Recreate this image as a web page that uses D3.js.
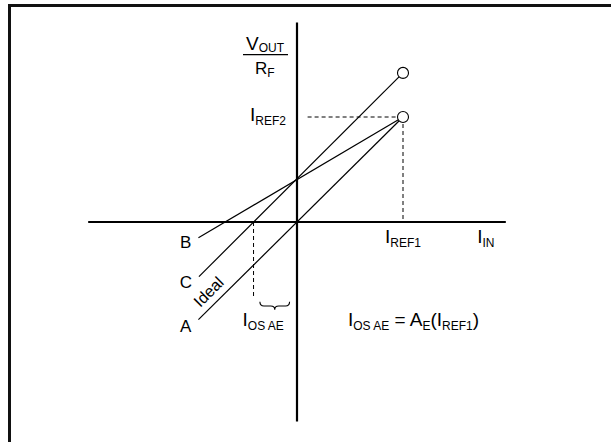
<!DOCTYPE html>
<html>
<head>
<meta charset="utf-8">
<script src="https://cdn.jsdelivr.net/npm/d3@7"></script>
<style>
  body { margin: 0; background: #fff; }
  text { font-family: "Liberation Sans", Arial, sans-serif; fill: #000; }
</style>
</head>
<body>
<script>
// transfer lines, in units of IREF1 (x) and IREF2 (y)
var lineNames = ["A", "B", "C"];
var lineStartX = [-0.93, -0.93, -0.925];
var lineStartY = [-0.93, -0.15, -0.52];
var lineEndX = [1, 1, 1];
var lineEndY = [1, 1, 1.42];

var refX = 1;          // IREF1
var refY = 1;          // IREF2
var offsetX = -0.41;   // IOS AE (x-intercept of C)
var axisX = [-1.97, 1.97];
var axisY = [-1.9, 1.9];

window.onload = function() {

  var width = 611,
      height = 442;

  var x = d3.scaleLinear().domain([0, 1]).range([297, 403]);
  var y = d3.scaleLinear().domain([0, 1]).range([222, 117]);

  var svg = d3.select("body").append("svg")
      .attr("width", width)
      .attr("height", height);

  // frame (left + top edge only)
  svg.append("path")
      .attr("d", "M9.5," + height + "V5.5H" + width)
      .attr("fill", "none")
      .attr("stroke", "#111")
      .attr("stroke-width", 3);

  // axes
  svg.append("line")
      .attr("x1", x(axisX[0])).attr("x2", x(axisX[1]))
      .attr("y1", y(0)).attr("y2", y(0))
      .attr("stroke", "#000").attr("stroke-width", 2.2);
  svg.append("line")
      .attr("x1", x(0)).attr("x2", x(0))
      .attr("y1", y(axisY[1])).attr("y2", y(axisY[0]))
      .attr("stroke", "#000").attr("stroke-width", 2.2);

  // dashed guides
  var dashes = [
    [0.1, refY, refX, refY],
    [refX, refY, refX, 0],
    [offsetX, 0, offsetX, -0.715]
  ];
  svg.selectAll(".guide")
      .data(dashes)
    .enter().append("line")
      .attr("class", "guide")
      .attr("x1", function(d) { return x(d[0]); })
      .attr("y1", function(d) { return y(d[1]); })
      .attr("x2", function(d) { return x(d[2]); })
      .attr("y2", function(d) { return y(d[3]); })
      .attr("stroke", "#000")
      .attr("stroke-width", 1)
      .attr("stroke-dasharray", "4,3");

  // the three lines
  svg.selectAll(".curve")
      .data(lineNames)
    .enter().append("line")
      .attr("class", "curve")
      .attr("x1", function(d, i) { return x(lineStartX[i]); })
      .attr("y1", function(d, i) { return y(lineStartY[i]); })
      .attr("x2", function(d, i) { return x(lineEndX[i]); })
      .attr("y2", function(d, i) { return y(lineEndY[i]); })
      .attr("stroke", "#000")
      .attr("stroke-width", 1.2);

  // end circles
  var ends = [[refX, refY], [lineEndX[2], lineEndY[2]]];
  svg.selectAll(".end")
      .data(ends)
    .enter().append("circle")
      .attr("class", "end")
      .attr("cx", function(d) { return x(d[0]); })
      .attr("cy", function(d) { return y(d[1]); })
      .attr("r", 5.5)
      .attr("fill", "#fff")
      .attr("stroke", "#000")
      .attr("stroke-width", 1.1);

  // line labels A B C
  var labelDy = [12, 10, 11];
  svg.selectAll(".lbl")
      .data(lineNames)
    .enter().append("text")
      .attr("class", "lbl")
      .attr("x", function(d, i) { return x(lineStartX[i]) - 7; })
      .attr("y", function(d, i) { return y(lineStartY[i]) + labelDy[i]; })
      .attr("text-anchor", "end")
      .attr("font-size", "17px")
      .text(function(d) { return d; });

  // "Ideal" along line A
  var ix = x(-0.74) - 6, iy = y(-0.74) - 4;
  svg.append("text")
      .attr("transform", "translate(" + ix + "," + iy + ") rotate(-45)")
      .attr("text-anchor", "middle")
      .attr("font-size", "16px")
      .text("Ideal");

  // brace under IOS AE
  var bx0 = x(-0.35), bx1 = x(-0.07), bm = (bx0 + bx1) / 2,
      bt = y(-0.76), bb = y(-0.8), tip = y(-0.835);
  svg.append("path")
      .attr("d", "M" + bx0 + "," + bt +
                 "Q" + bx0 + "," + bb + " " + (bx0 + 4) + "," + bb +
                 "H" + (bm - 4) +
                 "Q" + bm + "," + bb + " " + bm + "," + tip +
                 "Q" + bm + "," + bb + " " + (bm + 4) + "," + bb +
                 "H" + (bx1 - 4) +
                 "Q" + bx1 + "," + bb + " " + bx1 + "," + bt)
      .attr("fill", "none")
      .attr("stroke", "#000")
      .attr("stroke-width", 1.1);

  // subscripted labels
  function subLabel(px, py, parts, size, subDy) {
    var t = svg.append("text")
        .attr("x", px)
        .attr("y", py)
        .attr("font-size", size || "19px");
    parts.forEach(function(p) {
      var s = t.append("tspan").text(p[0]);
      if (p[1]) s.attr("font-size", "12px").attr("dy", subDy || 4);
      else if (p[2]) s.attr("dy", -(subDy || 4));
    });
    return t;
  }

  subLabel(x(0) - 51, y(1.64), [["V"], ["OUT", 1]], "19px", 2);
  svg.append("line")
      .attr("x1", x(0) - 54).attr("x2", x(0) - 9)
      .attr("y1", y(1.595)).attr("y2", y(1.595))
      .attr("stroke", "#000").attr("stroke-width", 1.2);
  subLabel(x(0) - 42, y(1.41), [["R", 0], ["F", 1]], "17px", 3);

  subLabel(x(0) - 47, y(refY) + 4, [["I"], ["REF2", 1]]);
  subLabel(x(refX) - 18, y(0) + 21, [["I"], ["REF1", 1]]);
  subLabel(x(1.7), y(0) + 21, [["I"], ["IN", 1]]);
  subLabel(x(offsetX) - 11, y(-0.99), [["I"], ["OS AE", 1]]);
  subLabel(x(0.48), y(-0.99),
      [["I"], ["OS AE", 1], [" = ", 0, 1], ["A"], ["E", 1], ["(", 0, 1], ["I"], ["REF1", 1], [")", 0, 1]]);
};
</script>
</body>
</html>
